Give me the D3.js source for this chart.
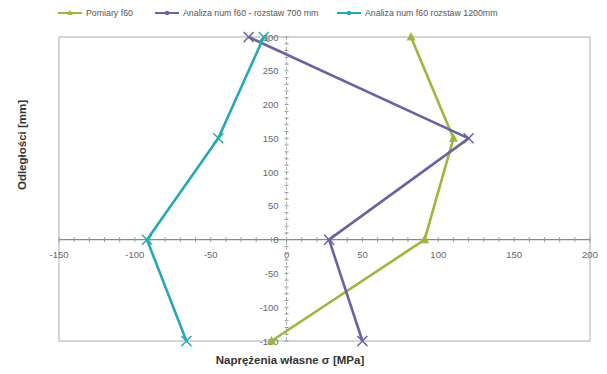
<!DOCTYPE html>
<html><head><meta charset="utf-8">
<script src="https://cdn.jsdelivr.net/npm/d3@7"></script>
<style>body{margin:0;background:#fff;}svg{display:block;font-family:Arial,"Liberation Sans",sans-serif;}</style>
</head><body>
<svg id="c" width="607" height="374"></svg>
<script>
const seriesNames = ["Pomiary f60", "Analiza num f60 - rozstaw 700 mm", "Analiza num f60 rozstaw 1200mm"];
const depths = [300, 150, 0, -150];
const pomiary = [82, 110, 91, -10];
const analiza700 = [-25, 120, 28, 50];
const analiza1200 = [-15, -45, -92, -66];
const xTicks = [-150, -100, -50, 0, 50, 100, 150, 200];
const yTicks = [-150, -100, -50, 0, 50, 100, 150, 200, 250, 300];
const colors = ["#9cb83c", "#6a639f", "#25a8b6"];
const markers = ["tri", "x", "x"];

const svg = d3.select("#c");
const x = d3.scaleLinear().domain([-150, 200]).range([59, 590]);
const y = d3.scaleLinear().domain([-150, 300]).range([341, 37]);

// plot border
svg.append("rect").attr("x", 59).attr("y", 37).attr("width", 531).attr("height", 304)
  .attr("fill", "none").attr("stroke", "#c8c8c8").attr("stroke-width", 1.5);

// x axis at y=0
const minorX = d3.range(-150, 201, 10);
const ax = svg.append("g");
ax.append("line").attr("x1", 59).attr("x2", 590).attr("y1", y(0)).attr("y2", y(0))
  .attr("stroke", "#888").attr("stroke-width", 1.3);
ax.selectAll(".mx").data(minorX).enter().append("line")
  .attr("x1", d => x(d)).attr("x2", d => x(d)).attr("y1", y(0) - 2.5).attr("y2", y(0) + 2.5)
  .attr("stroke", "#999").attr("stroke-width", 1);
ax.selectAll(".xl").data(xTicks).enter().append("text")
  .attr("x", d => x(d)).attr("y", y(0) + 18).attr("text-anchor", "middle")
  .attr("font-size", 9.5).attr("fill", "#666").text(d => d);

// y axis at x=0
const minorY = d3.range(-150, 301, 10);
const ay = svg.append("g");
ay.append("line").attr("x1", x(0)).attr("x2", x(0)).attr("y1", 37).attr("y2", 341)
  .attr("stroke", "#aaa").attr("stroke-width", 1).attr("stroke-dasharray", "3,2");
ay.selectAll(".my").data(minorY).enter().append("line")
  .attr("x1", x(0) - 2).attr("x2", x(0) + 2).attr("y1", d => y(d)).attr("y2", d => y(d))
  .attr("stroke", "#999").attr("stroke-width", 1);
ay.selectAll(".yl").data(yTicks).enter().append("text")
  .attr("x", x(0) - 8).attr("y", d => y(d) + 3.5).attr("text-anchor", "end")
  .attr("font-size", 9.5).attr("fill", "#666").text(d => d);

// series
const all = [pomiary, analiza700, analiza1200];
const line = d3.line().x(d => x(d[0])).y(d => y(d[1]));
function marker(g, type, cx, cy, col, s) {
  if (type === "tri") {
    g.append("path").attr("d", `M${cx},${cy - s}L${cx + s * 0.9},${cy + s * 0.7}L${cx - s * 0.9},${cy + s * 0.7}Z`)
      .attr("fill", col);
  } else if (type === "dot") {
    g.append("circle").attr("cx", cx).attr("cy", cy).attr("r", s * 0.75).attr("fill", col);
  } else {
    g.append("path").attr("d", `M${cx - s},${cy - s}L${cx + s},${cy + s}M${cx - s},${cy + s}L${cx + s},${cy - s}`)
      .attr("stroke", col).attr("stroke-width", 1.5).attr("fill", "none");
  }
}
all.forEach((vals, i) => {
  const pts = vals.map((v, j) => [v, depths[j]]);
  const g = svg.append("g");
  g.append("path").attr("d", line(pts)).attr("fill", "none").attr("stroke", colors[i])
    .attr("stroke-width", 2.6).attr("stroke-linejoin", "round");
  pts.forEach(p => marker(g, markers[i], x(p[0]), y(p[1]), colors[i], 5));
});

// legend
const legX = [58, 155, 337];
seriesNames.forEach((n, i) => {
  const g = svg.append("g");
  g.append("line").attr("x1", legX[i]).attr("x2", legX[i] + 24).attr("y1", 13).attr("y2", 13)
    .attr("stroke", colors[i]).attr("stroke-width", 2);
  marker(g, i === 0 ? "tri" : "dot", legX[i] + 12, 13, colors[i], 3);
  g.append("text").attr("x", legX[i] + 28).attr("y", 16).attr("font-size", 8.8).attr("fill", "#555").text(n);
});

// axis titles
svg.append("text").attr("x", 290).attr("y", 364).attr("text-anchor", "middle")
  .attr("font-size", 11.5).attr("font-weight", "bold").attr("fill", "#333").text("Naprężenia własne  σ [MPa]");
svg.append("text").attr("transform", "translate(26,145) rotate(-90)").attr("text-anchor", "middle")
  .attr("font-size", 11.5).attr("font-weight", "bold").attr("fill", "#333").text("Odległości [mm]");
</script>
</body></html>
